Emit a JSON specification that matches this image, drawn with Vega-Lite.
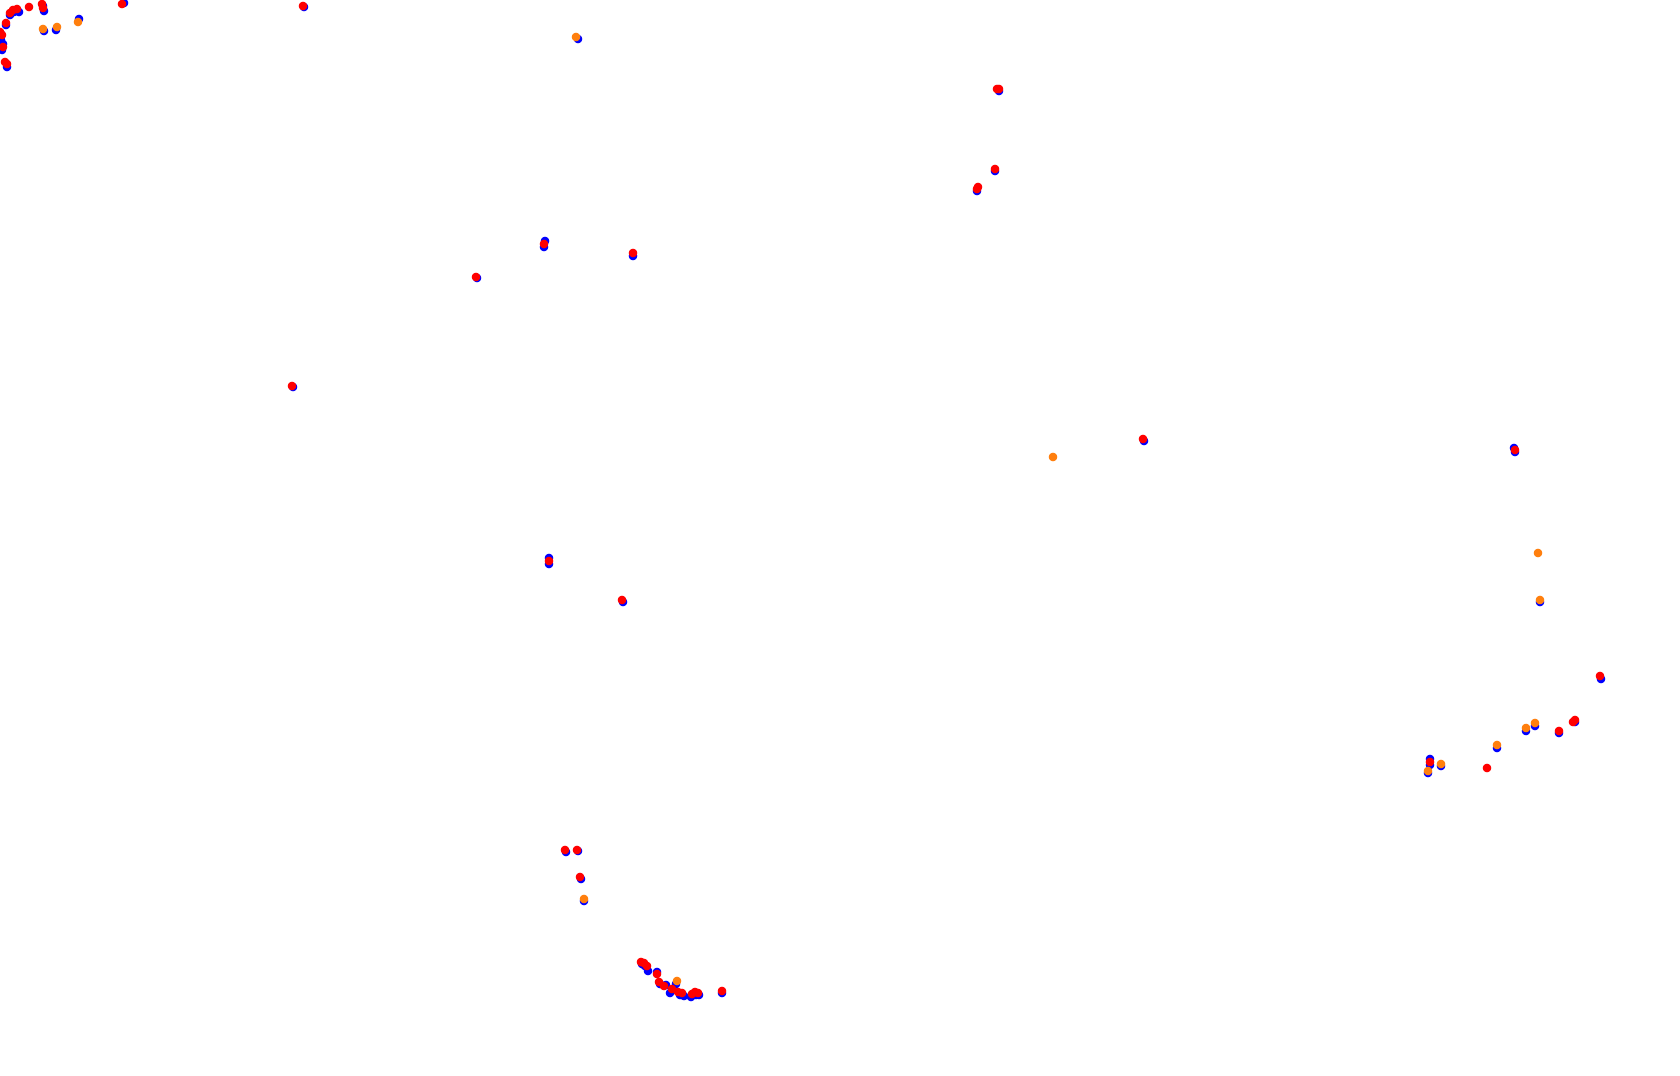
{
  "$schema": "https://vega.github.io/schema/vega-lite/v6.json",
  "width": 1680,
  "height": 1076,
  "autosize": {"type": "none"},
  "padding": 0,
  "background": "white",
  "config": {"view": {"stroke": null}},
  "data": {"values": [
    {"x":6,"y":25,"s":"blue"},{"x":10,"y":15,"s":"blue"},{"x":14,"y":12,"s":"blue"},{"x":19,"y":12,"s":"blue"},
    {"x":43,"y":6,"s":"blue"},{"x":44,"y":11,"s":"blue"},{"x":44,"y":31,"s":"blue"},{"x":56,"y":30,"s":"blue"},
    {"x":79,"y":19,"s":"blue"},{"x":1,"y":34,"s":"blue"},{"x":1,"y":40,"s":"blue"},{"x":3,"y":44,"s":"blue"},
    {"x":2,"y":50,"s":"blue"},{"x":7,"y":67,"s":"blue"},{"x":124,"y":3,"s":"blue"},{"x":304,"y":7,"s":"blue"},
    {"x":578,"y":39,"s":"blue"},{"x":999,"y":91,"s":"blue"},{"x":995,"y":171,"s":"blue"},{"x":977,"y":191,"s":"blue"},
    {"x":545,"y":241,"s":"blue"},{"x":544,"y":247,"s":"blue"},{"x":633,"y":256,"s":"blue"},{"x":477,"y":278,"s":"blue"},
    {"x":293,"y":387,"s":"blue"},{"x":1144,"y":441,"s":"blue"},{"x":1515,"y":452,"s":"blue"},{"x":1514,"y":448,"s":"blue"},
    {"x":1540,"y":602,"s":"blue"},{"x":549,"y":558,"s":"blue"},{"x":549,"y":564,"s":"blue"},{"x":623,"y":602,"s":"blue"},
    {"x":1601,"y":679,"s":"blue"},{"x":1575,"y":722,"s":"blue"},{"x":1559,"y":733,"s":"blue"},{"x":1535,"y":726,"s":"blue"},
    {"x":1526,"y":731,"s":"blue"},{"x":1497,"y":748,"s":"blue"},{"x":1441,"y":766,"s":"blue"},{"x":1430,"y":759,"s":"blue"},
    {"x":1430,"y":765,"s":"blue"},{"x":1428,"y":773,"s":"blue"},{"x":566,"y":852,"s":"blue"},{"x":578,"y":851,"s":"blue"},
    {"x":581,"y":879,"s":"blue"},{"x":584,"y":901,"s":"blue"},{"x":642,"y":964,"s":"blue"},{"x":645,"y":966,"s":"blue"},
    {"x":648,"y":971,"s":"blue"},{"x":657,"y":972,"s":"blue"},{"x":660,"y":984,"s":"blue"},{"x":666,"y":985,"s":"blue"},
    {"x":676,"y":984,"s":"blue"},{"x":670,"y":993,"s":"blue"},{"x":680,"y":995,"s":"blue"},{"x":684,"y":996,"s":"blue"},
    {"x":691,"y":997,"s":"blue"},{"x":696,"y":995,"s":"blue"},{"x":699,"y":995,"s":"blue"},{"x":722,"y":993,"s":"blue"},

    {"x":6,"y":23,"s":"red"},{"x":10,"y":13,"s":"red"},{"x":13,"y":10,"s":"red"},{"x":17,"y":9,"s":"red"},
    {"x":29,"y":7,"s":"red"},{"x":42,"y":4,"s":"red"},{"x":43,"y":8,"s":"red"},{"x":0,"y":32,"s":"red"},
    {"x":2,"y":35,"s":"red"},{"x":3,"y":47,"s":"red"},{"x":5,"y":62,"s":"red"},{"x":7,"y":64,"s":"red"},
    {"x":122,"y":4,"s":"red"},{"x":303,"y":6,"s":"red"},{"x":999,"y":89,"s":"red"},{"x":997,"y":89,"s":"red"},
    {"x":995,"y":169,"s":"red"},{"x":977,"y":189,"s":"red"},{"x":978,"y":187,"s":"red"},{"x":544,"y":244,"s":"red"},
    {"x":633,"y":253,"s":"red"},{"x":476,"y":277,"s":"red"},{"x":292,"y":386,"s":"red"},{"x":1143,"y":439,"s":"red"},
    {"x":1515,"y":450,"s":"red"},{"x":549,"y":561,"s":"red"},{"x":622,"y":600,"s":"red"},{"x":1600,"y":676,"s":"red"},
    {"x":1575,"y":720,"s":"red"},{"x":1573,"y":722,"s":"red"},{"x":1559,"y":731,"s":"red"},{"x":1487,"y":768,"s":"red"},
    {"x":1430,"y":762,"s":"red"},{"x":565,"y":850,"s":"red"},{"x":577,"y":850,"s":"red"},{"x":580,"y":877,"s":"red"},
    {"x":641,"y":962,"s":"red"},{"x":644,"y":963,"s":"red"},{"x":647,"y":966,"s":"red"},{"x":657,"y":974,"s":"red"},
    {"x":659,"y":982,"s":"red"},{"x":664,"y":986,"s":"red"},{"x":672,"y":989,"s":"red"},{"x":678,"y":992,"s":"red"},
    {"x":682,"y":993,"s":"red"},{"x":692,"y":994,"s":"red"},{"x":695,"y":992,"s":"red"},{"x":698,"y":993,"s":"red"},
    {"x":722,"y":991,"s":"red"},

    {"x":43,"y":29,"s":"orange"},{"x":57,"y":27,"s":"orange"},{"x":78,"y":22,"s":"orange"},{"x":576,"y":37,"s":"orange"},
    {"x":1053,"y":457,"s":"orange"},{"x":1538,"y":553,"s":"orange"},{"x":1540,"y":600,"s":"orange"},{"x":1535,"y":723,"s":"orange"},
    {"x":1526,"y":728,"s":"orange"},{"x":1497,"y":745,"s":"orange"},{"x":1441,"y":764,"s":"orange"},{"x":1428,"y":771,"s":"orange"},
    {"x":584,"y":899,"s":"orange"},{"x":677,"y":981,"s":"orange"}
  ]},
  "mark": {"type": "point", "filled": true, "opacity": 1, "size": 72, "shape": "circle", "strokeWidth": 0},
  "encoding": {
    "x": {"field": "x", "type": "quantitative", "scale": {"domain": [0, 1680], "nice": false, "zero": false}, "axis": null},
    "y": {"field": "y", "type": "quantitative", "scale": {"domain": [0, 1076], "nice": false, "zero": false, "reverse": true}, "axis": null},
    "color": {"field": "s", "type": "nominal", "scale": {"domain": ["blue", "red", "orange"], "range": ["#0000ff", "#ff0000", "#ff7f0e"]}, "legend": null}
  }
}
